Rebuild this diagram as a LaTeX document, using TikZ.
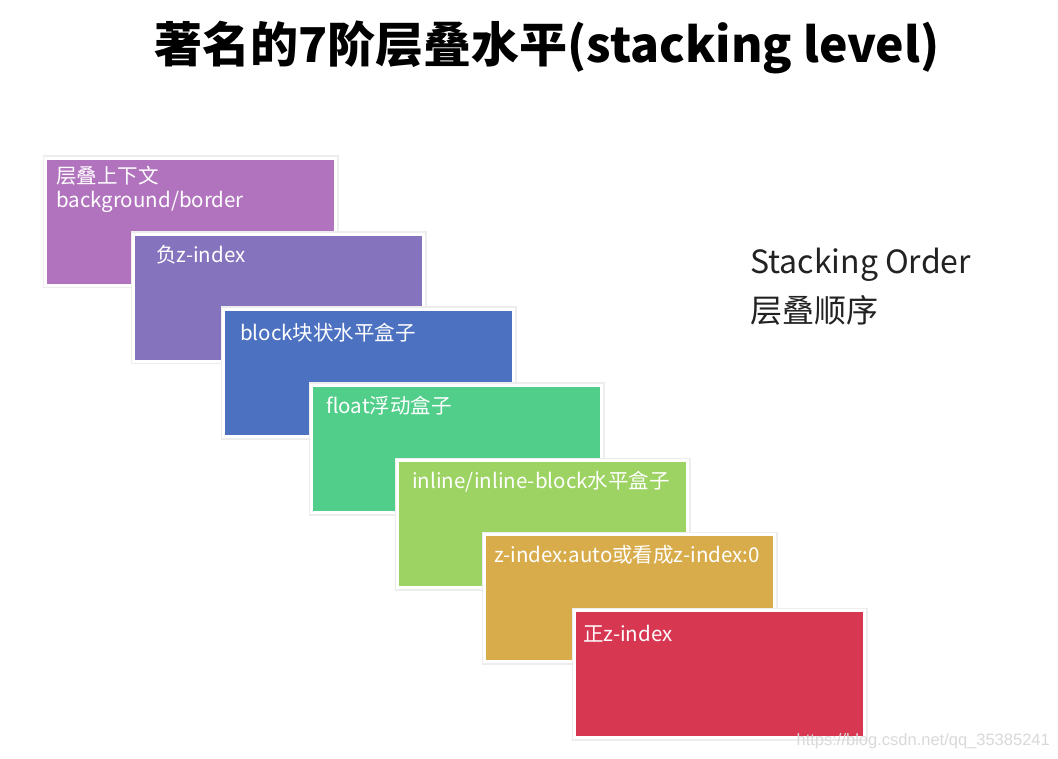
\documentclass[tikz,border=0pt]{standalone}
\usepackage{fontspec}
\setmainfont{Noto Sans CJK SC}
\newfontfamily\wmfont{Liberation Sans}
\definecolor{c1}{HTML}{B273BE}
\definecolor{c2}{HTML}{8673BD}
\definecolor{c3}{HTML}{4C71C0}
\definecolor{c4}{HTML}{51CE8A}
\definecolor{c5}{HTML}{9CD362}
\definecolor{c6}{HTML}{D8AC4A}
\definecolor{c7}{HTML}{D73751}
\definecolor{txtdark}{HTML}{222222}
\begin{document}
\begin{tikzpicture}[x=1pt,y=-1pt,
  layerbox/.style={minimum width=290pt, minimum height=127pt, anchor=north west,
    inner sep=0pt, fill=#1, draw=white, line width=3pt,
    preaction={draw=black!7, line width=6pt}},
  boxtext/.style={anchor=west, inner sep=0pt, text=white, font=\fontsize{20.5}{24}\selectfont, align=left},
  sidetext/.style={anchor=west, inner sep=0pt, text=txtdark, font=\fontsize{32}{37}\selectfont}
]
\useasboundingbox[fill=white] (0,0) rectangle (1058,759);

\node[anchor=center, inner sep=0pt, font=\fontsize{48}{54}\selectfont\bfseries] (title) at (547,47) {著名的7阶层叠水平(stacking level)};

\node[layerbox=c1] (b1) at (44,157) {};
\node[boxtext] (t1a) at (56,176) {层叠上下文};
\node[boxtext] (t1b) at (56,202) {background/border};

\node[layerbox=c2] (b2) at (132,233) {};
\node[boxtext] (t2) at (156,255) {负z-index};

\node[layerbox=c3] (b3) at (222,308) {};
\node[boxtext] (t3) at (240,333) {block块状水平盒子};

\node[layerbox=c4] (b4) at (310,384) {};
\node[boxtext] (t4) at (326,406) {float浮动盒子};

\node[layerbox=c5] (b5) at (396,459) {};
\node[boxtext] (t5) at (412,482) {inline/inline-block水平盒子};

\node[layerbox=c6] (b6) at (483,533) {};
\node[boxtext] (t6) at (494,555) {z-index:auto或看成z-index:0};

\node[layerbox=c7] (b7) at (573,609) {};
\node[boxtext] (t7) at (583,634) {正z-index};

\node[sidetext] (so1) at (750,265) {Stacking Order};
\node[sidetext] (so2) at (750,310) {层叠顺序};

\node[anchor=east, inner sep=0pt, text=black!15, font=\wmfont\fontsize{16.5}{18}\selectfont] (wm) at (1050,741) {https://blog.csdn.net/qq\_35385241};
\end{tikzpicture}
\end{document}
